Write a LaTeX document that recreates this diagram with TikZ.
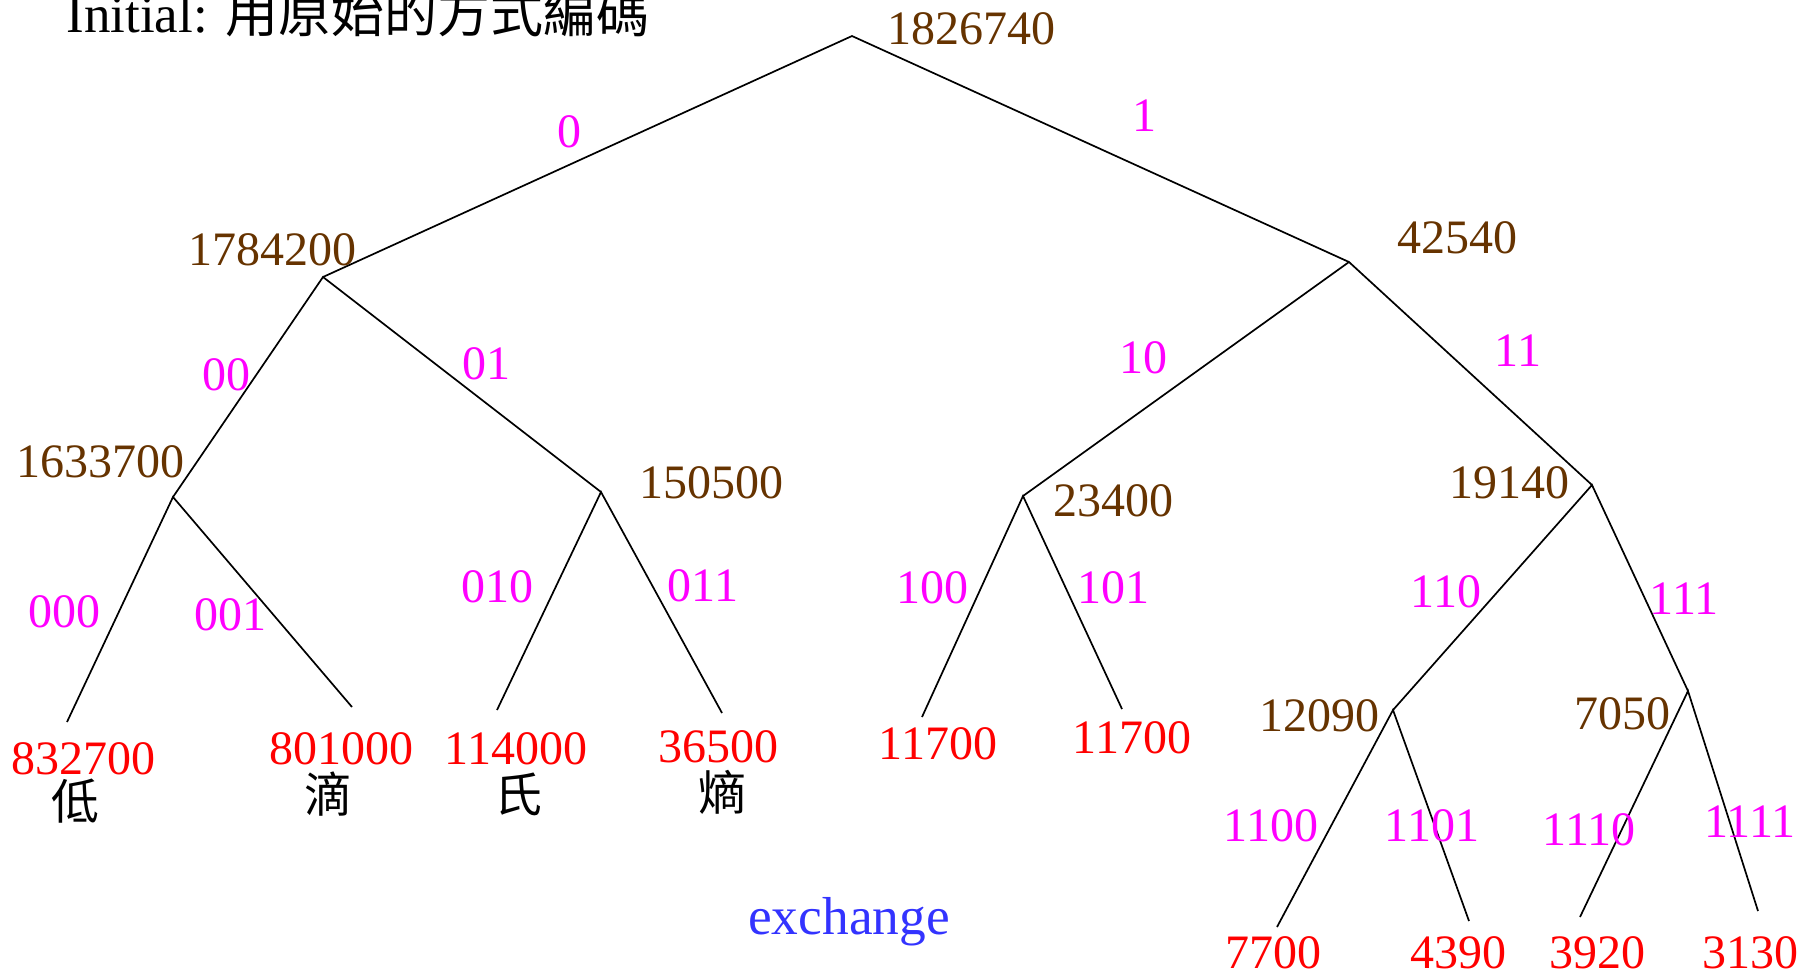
\documentclass[tikz,border=0pt]{standalone}
\usepackage{fontspec}
\setmainfont{Liberation Serif}
\newfontfamily\cjk{Noto Sans CJK TC}
\definecolor{inbrown}{RGB}{102,51,0}
\definecolor{edgemag}{RGB}{255,0,255}
\definecolor{leafred}{RGB}{255,0,0}
\definecolor{xblue}{RGB}{51,51,255}
\tikzset{
  tx/.style={inner sep=0pt, font=\fontsize{24pt}{28pt}\selectfont},
  inner/.style={tx, text=inbrown},
  code/.style={tx, text=edgemag},
  leaf/.style={tx, text=leafred},
  sym/.style={tx, text=black, font=\fontsize{24pt}{28pt}\selectfont\cjk},
  br/.style={draw=black, line width=0.85pt}
}
\begin{document}
\begin{tikzpicture}[x=0.5pt, y=-0.5pt]
\useasboundingbox (0,0) rectangle (1805,976);
% title
\node[anchor=base west, inner sep=0pt, font=\fontsize{26.5pt}{30pt}\selectfont] (title) at (66,32)
  {Initial: {\cjk 用原始的方式編碼}};
% junction points
\coordinate (r) at (852,36);
\coordinate (a) at (323,277);
\coordinate (b) at (1349,262);
\coordinate (aa) at (173,497);
\coordinate (ab) at (601,492);
\coordinate (ba) at (1023,496);
\coordinate (bb) at (1592,485);
\coordinate (l1) at (67,722);
\coordinate (l2) at (352,707);
\coordinate (l3) at (497,710);
\coordinate (l4) at (722,713);
\coordinate (l5) at (922,717);
\coordinate (l6) at (1122,709);
\coordinate (bba) at (1393,710);
\coordinate (bbb) at (1688,691);
\coordinate (l7) at (1277,927);
\coordinate (l8) at (1469,921);
\coordinate (l9) at (1580,917);
\coordinate (l10) at (1758,911);
% branches
\draw[br] (a) -- (r) -- (b);
\draw[br] (aa) -- (a) -- (ab);
\draw[br] (ba) -- (b) -- (bb);
\draw[br] (l1) -- (aa) -- (l2);
\draw[br] (l3) -- (ab) -- (l4);
\draw[br] (l5) -- (ba) -- (l6);
\draw[br] (bba) -- (bb) -- (bbb);
\draw[br] (l7) -- (bba) -- (l8);
\draw[br] (l9) -- (bbb) -- (l10);
% internal values
\node[inner] (vr) at (971,29) {1826740};
\node[inner] (va) at (272,250) {1784200};
\node[inner] (vb) at (1457,238) {42540};
\node[inner] (vaa) at (101,462) {1633700};
\node[inner] (vab) at (711,483) {150500};
\node[inner] (vba) at (1113,501) {23400};
\node[inner] (vbb) at (1509,483) {19140};
\node[inner] (vbba) at (1319,716) {12090};
\node[inner] (vbbb) at (1622,714) {7050};
% codes
\node[code] (c0) at (569,132) {0};
\node[code] (c1) at (1144,116) {1};
\node[code] (c00) at (226,375) {00};
\node[code] (c01) at (486,364) {01};
\node[code] (c10) at (1143,358) {10};
\node[code] (c11) at (1518,351) {11};
\node[code] (c000) at (64,612) {000};
\node[code] (c001) at (230,615) {001};
\node[code] (c010) at (497,587) {010};
\node[code] (c011) at (703,586) {011};
\node[code] (c100) at (932,588) {100};
\node[code] (c101) at (1113,588) {101};
\node[code] (c110) at (1446,592) {110};
\node[code] (c111) at (1684,599) {111};
\node[code] (c1100) at (1271,826) {1100};
\node[code] (c1101) at (1432,826) {1101};
\node[code] (c1110) at (1589,830) {1110};
\node[code] (c1111) at (1750,822) {1111};
% leaves
\node[leaf] (v1) at (83,759) {832700};
\node[leaf] (v2) at (341,749) {801000};
\node[leaf] (v3) at (516,749) {114000};
\node[leaf] (v4) at (718,747) {36500};
\node[leaf] (v5) at (938,744) {11700};
\node[leaf] (v6) at (1132,738) {11700};
\node[leaf] (v7) at (1273,953) {7700};
\node[leaf] (v8) at (1458,953) {4390};
\node[leaf] (v9) at (1597,953) {3920};
\node[leaf] (v10) at (1750,953) {3130};
% symbols
\node[sym] (s1) at (75,801) {低};
\node[sym] (s2) at (328,794) {滴};
\node[sym] (s3) at (518,794) {氏};
\node[sym] (s4) at (722,792) {熵};
% exchange
\node[inner sep=0pt, text=xblue, font=\fontsize{26.7pt}{30pt}\selectfont] (ex) at (849,922) {exchange};
\end{tikzpicture}
\end{document}
